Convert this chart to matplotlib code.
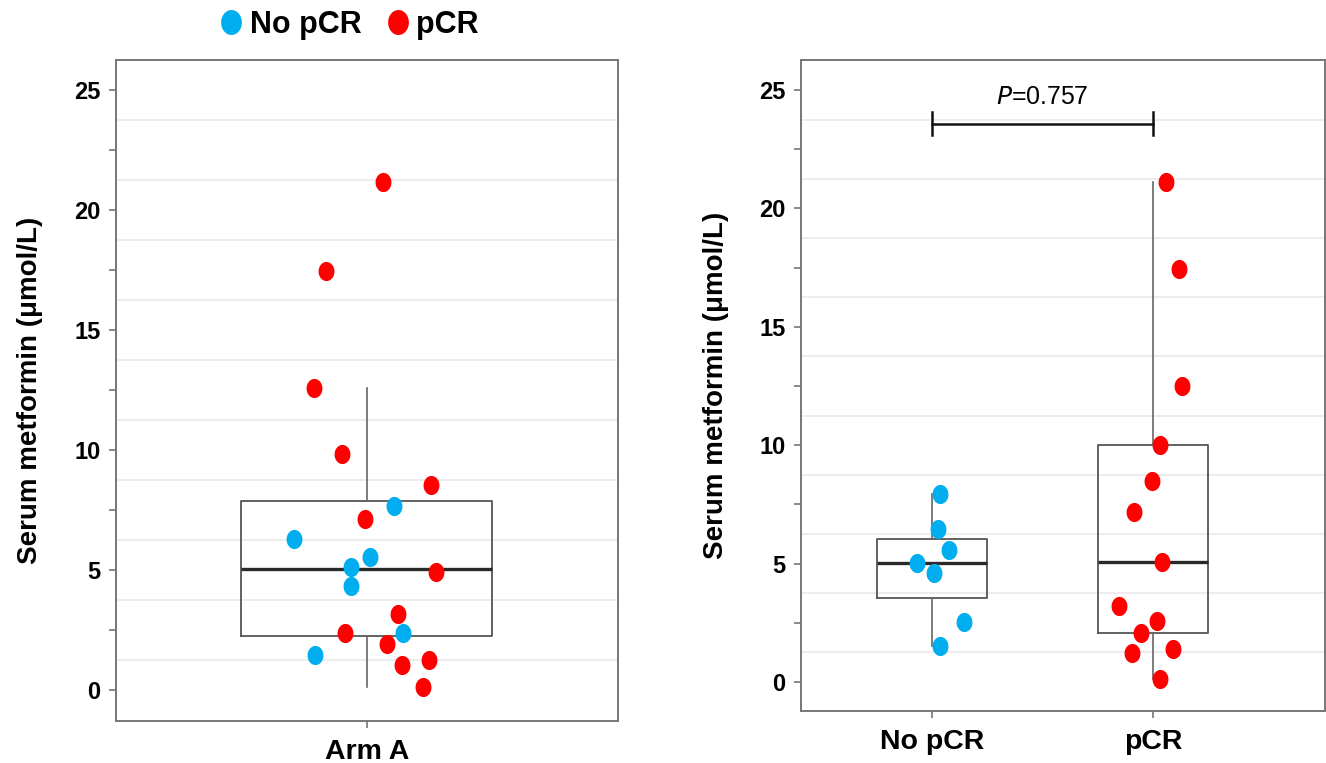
import matplotlib
matplotlib.use("Agg")
import matplotlib.pyplot as plt
from matplotlib.path import Path
from matplotlib.lines import Line2D
import numpy as np

plt.rcParams['font.family'] = ['Liberation Sans', 'DejaVu Sans']

# data (umol/L)
arm_pcr = [21.17, 17.46, 12.6, 9.85, 8.53, 7.11, 4.93, 3.15, 2.39, 1.9, 1.05, 1.24, 0.14]
arm_pcr_dx = [0.032, -0.082, -0.106, -0.050, 0.127, -0.004, 0.137, 0.062, -0.044, 0.040, 0.070, 0.124, 0.112]
arm_nopcr = [7.68, 6.3, 5.55, 5.12, 4.33, 2.36, 1.46]
arm_nopcr_dx = [0.054, -0.145, 0.006, -0.032, -0.032, 0.072, -0.104]

grp_nopcr = [7.94, 6.48, 5.58, 5.03, 4.6, 2.54, 1.52]
grp_nopcr_dx = [0.036, 0.027, 0.077, -0.068, 0.009, 0.145, 0.036]
grp_pcr = [21.11, 17.45, 12.49, 10.02, 8.5, 7.18, 5.09, 3.23, 2.57, 2.06, 1.41, 1.21, 0.13]
grp_pcr_dx = [0.059, 0.118, 0.131, 0.032, -0.005, -0.086, 0.041, -0.154, 0.018, -0.054, 0.090, -0.095, 0.032]

groups = ["No pCR", "pCR"]
p_text = "=0.757"

BLUE = "#00AEEF"
RED = "#FF0000"

# slightly tall ellipse marker like in the picture
t = np.linspace(0, 2 * np.pi, 60)
oval = Path(np.column_stack([0.83 * np.cos(t), np.sin(t)]), closed=True)
MS = 190


def style_axes(ax, ylim):
    ax.set_ylim(*ylim)
    for gy in np.arange(1.25, 26, 2.5):
        ax.axhline(gy, color="#ECECEC", lw=1.4, zorder=0)
    ax.set_yticks([0, 5, 10, 15, 20, 25])
    ax.set_yticks(np.arange(2.5, 25, 5), minor=True)
    ax.tick_params(axis="y", which="both", length=5, width=1.2, color="#777777",
                   labelsize=17, pad=6)
    ax.tick_params(axis="x", length=5, width=1.2, color="#777777", labelsize=20.5, pad=8)
    for lab in ax.get_yticklabels() + ax.get_xticklabels():
        lab.set_fontweight("bold")
    for s in ax.spines.values():
        s.set_color("#777777")
        s.set_linewidth(1.4)
    ax.set_ylabel("Serum metformin (\u03bcmol/L)", fontsize=20, fontweight="bold", labelpad=22)


def boxes(ax, data, pos):
    ax.boxplot(data, positions=pos, widths=0.5, whis=1.5, showfliers=False,
               boxprops=dict(color="#555555", lw=1.3),
               whiskerprops=dict(color="#666666", lw=1.2),
               capprops=dict(lw=0),
               medianprops=dict(color="#2a2a2a", lw=2.4),
               zorder=2)


fig = plt.figure(figsize=(13.26, 7.63), dpi=100)
ax1 = fig.add_axes([0.0872, 0.0554, 0.3789, 0.866])
ax2 = fig.add_axes([0.604, 0.0685, 0.3952, 0.8529])

# left panel: all patients of arm A
boxes(ax1, [arm_pcr + arm_nopcr], [1])
ax1.scatter(1 + np.array(arm_nopcr_dx), arm_nopcr, s=MS, marker=oval, color=BLUE, lw=0, zorder=3)
ax1.scatter(1 + np.array(arm_pcr_dx), arm_pcr, s=MS, marker=oval, color=RED, lw=0, zorder=3)
ax1.set_xlim(0.5, 1.5)
ax1.set_xticks([1])
ax1.set_xticklabels(["Arm A"])
style_axes(ax1, (-1.28, 26.25))

# right panel: by response
boxes(ax2, [grp_nopcr, grp_pcr], [1, 2])
ax2.scatter(1 + np.array(grp_nopcr_dx), grp_nopcr, s=MS, marker=oval, color=BLUE, lw=0, zorder=3)
ax2.scatter(2 + np.array(grp_pcr_dx), grp_pcr, s=MS, marker=oval, color=RED, lw=0, zorder=3)
ax2.set_xlim(0.407, 2.778)
ax2.set_xticks([1, 2])
ax2.set_xticklabels(groups)
style_axes(ax2, (-1.21, 26.27))

# p-value bracket
ax2.plot([1, 2], [23.58, 23.58], color="#111111", lw=1.8)
ax2.plot([1, 1], [23.1, 24.06], color="#111111", lw=1.8)
ax2.plot([2, 2], [23.1, 24.06], color="#111111", lw=1.8)
ax2.text(1.5, 24.7, r"$\mathit{P}$" + p_text, ha="center", va="center", fontsize=18)

handles = [Line2D([], [], ls="", marker=oval, ms=18, color=BLUE, mew=0),
           Line2D([], [], ls="", marker=oval, ms=18, color=RED, mew=0)]
fig.legend(handles, groups, loc="center", bbox_to_anchor=(0.262, 0.967), ncol=2,
           frameon=False, prop=dict(size=22, weight="bold"), handletextpad=0.1,
           columnspacing=0.7, handlelength=1.0)

fig.savefig("out.png", dpi=100)
